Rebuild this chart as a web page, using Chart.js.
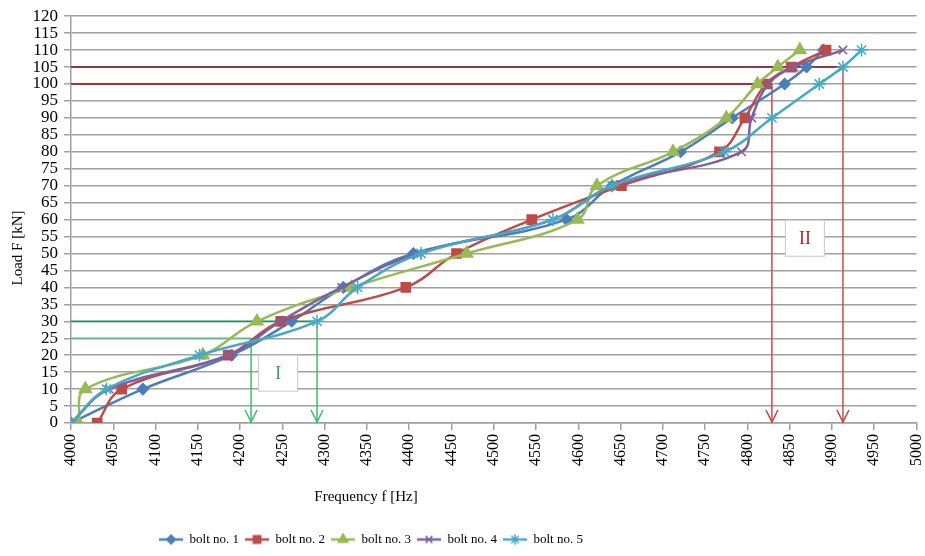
<!DOCTYPE html>
<html lang="en">
<head>
<meta charset="UTF-8">
<title>Load vs frequency</title>
<script src="https://cdn.jsdelivr.net/npm/chart.js"></script>
<style>
  html, body { margin: 0; padding: 0; background: #fff; }
  #wrap { width: 925px; height: 556px; }
</style>
</head>
<body>
<div id="wrap"><canvas id="myChart"></canvas></div>
<script>
// load steps (kN), same for every bolt
const loads = [0, 10, 20, 30, 40, 50, 60, 70, 80, 90, 100, 105, 110];

// measured frequency (Hz) per bolt at each load step
const bolt1 = [4000, 4085, 4190, 4261, 4322, 4405, 4586, 4640, 4721, 4782, 4844, 4870, 4890];
const bolt2 = [4031, 4060, 4186, 4248, 4396, 4456, 4545, 4651, 4767, 4797, 4822, 4852, 4893];
const bolt3 = [4009, 4017, 4156, 4220, 4332, 4468, 4599, 4622, 4712, 4775, 4812, 4836, 4862];
const bolt4 = [4000, 4045, 4186, 4248, 4320, 4410, 4570, 4640, 4793, 4805, 4825, 4855, 4913];
const bolt5 = [4000, 4042, 4152, 4291, 4339, 4414, 4570, 4640, 4773, 4829, 4885, 4913, 4935];

const boltNames = ['bolt no. 1', 'bolt no. 2', 'bolt no. 3', 'bolt no. 4', 'bolt no. 5'];

// guide lines: region I (low load) and region II (high load)
const guideLoadsI = [25, 30];
const guideFreqI = [4213, 4291];
const guideLoadsII = [100, 105];
const guideFreqII = [4829, 4913];

const colors = ['#4a7ebb', '#be4b48', '#98b954', '#7d60a0', '#46aac5'];
const styles = ['rectRot', 'rect', 'triangle', 'crossRot', 'star'];
const radii = [5.5, 6.5, 7, 6, 6.5];

Chart.defaults.font.family = '"Liberation Serif", "Times New Roman", serif';
Chart.defaults.color = '#000';

function makeIcon(i) {
  const c = document.createElement('canvas');
  c.width = 24; c.height = 14;
  const g = c.getContext('2d');
  g.strokeStyle = colors[i]; g.fillStyle = colors[i]; g.lineWidth = 2.5;
  g.beginPath(); g.moveTo(0, 7); g.lineTo(24, 7); g.stroke();
  g.lineWidth = 1.5;
  Chart.helpers.drawPoint(g, { pointStyle: styles[i], radius: radii[i] * 0.8, borderWidth: 1.5 }, 12, 7);
  return c;
}
const icons = boltNames.map((n, i) => makeIcon(i));

const series = [bolt1, bolt2, bolt3, bolt4, bolt5];
const datasets = series.map((f, i) => ({
  label: boltNames[i],
  data: loads.map((l, k) => ({ x: f[k], y: l })),
  borderColor: colors[i],
  backgroundColor: colors[i],
  borderWidth: 2.5,
  pointStyle: styles[i],
  pointRadius: radii[i],
  pointBorderWidth: 1.5,
  tension: 0.4,
  order: 5 - i
}));

function guide(load, freq, hColor, vColor, hWidth) {
  datasets.push({
    label: 'guide', data: [{ x: 4000, y: load }, { x: freq, y: load }],
    borderColor: hColor, borderWidth: hWidth, pointRadius: 0, tension: 0, order: 10
  });
  datasets.push({
    label: 'guide', data: [{ x: freq, y: load }, { x: freq, y: 0 }],
    borderColor: vColor, borderWidth: 1.5, pointRadius: 0, tension: 0, order: 10
  });
}
guide(guideLoadsI[0], guideFreqI[0], '#4cc47e', '#3cbc6c', 1.5);
guide(guideLoadsI[1], guideFreqI[1], '#1f8f5c', '#3cbc6c', 1.5);
guide(guideLoadsII[0], guideFreqII[0], '#b52a2a', '#d04848', 2);
guide(guideLoadsII[1], guideFreqII[1], '#7a1414', '#cc4c4c', 1.5);

const annotate = {
  id: 'annotate',
  afterLayout(chart) {
    const lg = chart.legend;
    lg.left = 0; lg.right = 742; lg.width = 742;
  },
  afterDraw(chart) {
    const { ctx, scales: { x, y } } = chart;
    ctx.save();
    // arrow heads at the bottom of the vertical guides
    const heads = guideFreqI.map(f => [f, '#3cbc6c']).concat(guideFreqII.map(f => [f, '#cc4040']));
    heads.forEach(([f, c]) => {
      const px = x.getPixelForValue(f), py = y.getPixelForValue(0);
      ctx.strokeStyle = c; ctx.lineWidth = 1.5;
      ctx.beginPath();
      ctx.moveTo(px - 6, py - 13); ctx.lineTo(px, py - 1); ctx.lineTo(px + 6, py - 13);
      ctx.stroke();
    });
    // region labels
    const boxes = [['I', 4245, 14.7, '#2aa35a'], ['II', 4868, 54.5, '#b02828']];
    boxes.forEach(([t, fx, fy, c]) => {
      const cx = x.getPixelForValue(fx), cy = y.getPixelForValue(fy);
      ctx.fillStyle = '#fff'; ctx.strokeStyle = '#c8c8c8'; ctx.lineWidth = 1;
      ctx.fillRect(cx - 19.5, cy - 18, 39, 36);
      ctx.strokeRect(cx - 19.5, cy - 18, 39, 36);
      ctx.fillStyle = c; ctx.font = '18px "Liberation Serif", serif';
      ctx.textAlign = 'center'; ctx.textBaseline = 'middle';
      ctx.fillText(t, cx, cy + 1);
    });
    // axis titles
    ctx.fillStyle = '#000';
    ctx.font = '15px "Liberation Serif", serif';
    ctx.textAlign = 'center'; ctx.textBaseline = 'middle';
    ctx.fillText('Frequency f [Hz]', 366, 497);
    ctx.translate(18, 248);
    ctx.rotate(-Math.PI / 2);
    ctx.fillText('Load F [kN]', 0, 0);
    ctx.restore();
  }
};

new Chart(document.getElementById('myChart'), {
  type: 'line',
  data: { datasets },
  plugins: [annotate],
  options: {
    responsive: true,
    maintainAspectRatio: false,
    animation: false,
    layout: { padding: { top: 0, right: 8, left: 0, bottom: 0 } },
    plugins: {
      tooltip: { enabled: false },
      legend: {
        position: 'bottom',
        labels: {
          usePointStyle: true,
          pointStyleWidth: 24,
          padding: 6,
          font: { size: 13 },
          generateLabels(chart) {
            const items = Chart.defaults.plugins.legend.labels.generateLabels(chart);
            return items.filter(it => it.datasetIndex < 5)
              .sort((a, b) => a.datasetIndex - b.datasetIndex)
              .map(it => Object.assign(it, { pointStyle: icons[it.datasetIndex], lineWidth: 0 }));
          }
        }
      }
    },
    scales: {
      x: {
        type: 'linear',
        min: 4000, max: 5000,
        afterFit(scale) { scale.height = 104; scale.paddingLeft = 0; scale.paddingRight = 0; },
        ticks: { stepSize: 50, autoSkip: false, minRotation: 90, maxRotation: 90, padding: 4,
                 font: { size: 16 }, callback: v => String(v) },
        grid: { drawOnChartArea: false, tickLength: 7, color: '#a0a0a0', lineWidth: 1.5 },
        border: { color: '#a0a0a0', width: 1.5 }
      },
      y: {
        min: 0, max: 120,
        afterFit(scale) { scale.width = 71; },
        ticks: { stepSize: 5, autoSkip: false, padding: 6, font: { size: 17 }, callback: v => String(v) },
        grid: { tickLength: 7, color: '#a0a0a0', lineWidth: 1.5 },
        border: { color: '#a0a0a0', width: 1.5 }
      }
    }
  }
});
</script>
</body>
</html>
